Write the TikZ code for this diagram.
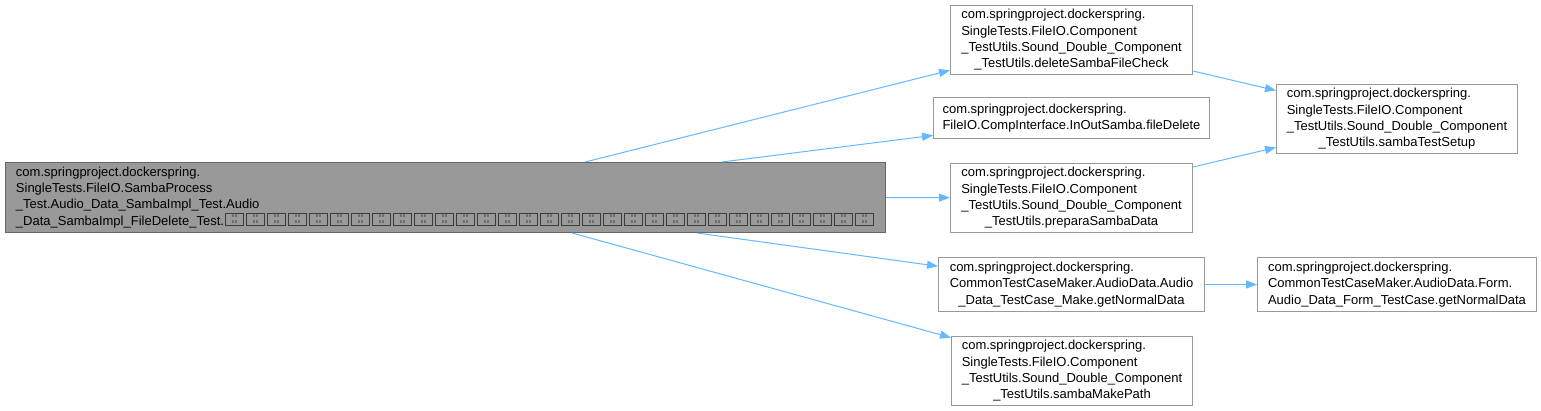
\documentclass[tikz,border=0pt]{standalone}
\usepackage{fontspec}
\setmainfont{Liberation Sans}
\usetikzlibrary{arrows.meta}
\definecolor{edgec}{HTML}{63B8FF}
\definecolor{mainfill}{HTML}{999999}
\definecolor{mainline}{HTML}{666666}
\definecolor{boxline}{HTML}{999999}
\definecolor{tofuline}{HTML}{3C3C3C}
\definecolor{tofufill}{HTML}{9A9A9A}
\newcommand\tofu{\kern1pt\raisebox{1pt}[9pt][1pt]{\setlength\fboxsep{1pt}\setlength\fboxrule{1pt}\fcolorbox{tofuline}{tofufill}{\makebox[15pt]{\rule{0pt}{9.5pt}\raisebox{0.6pt}{\fontsize{4.2}{4.2}\selectfont\color{tofuline}\shortstack{8\,8\\8\,8}}}}}\kern1pt}
\newcommand\tofus{\tofu\tofu\tofu\tofu\tofu\tofu\tofu\tofu\tofu\tofu\tofu\tofu\tofu\tofu\tofu\tofu\tofu\tofu\tofu\tofu\tofu\tofu\tofu\tofu\tofu\tofu\tofu\tofu\tofu\tofu\tofu}
\newcommand\lns[1]{\begin{tabular}{@{}l@{}}#1\end{tabular}}
\newcommand\cln[1]{\multicolumn{1}{@{}c@{}}{#1}}
\renewcommand\arraystretch{1.1667}
\begin{document}
\begin{tikzpicture}[x=1pt,y=-1pt,
  box/.style={draw=boxline, fill=white, line width=1pt, inner sep=0pt, anchor=north west,
    font=\fontsize{13}{14}\selectfont},
  mainbox/.style={box, draw=mainline, fill=mainfill},
  edge/.style={draw=edgec, line width=1pt, -{Triangle[length=11pt,width=8pt]}}]
\useasboundingbox (0,0) rectangle (1541,411);

\node[mainbox, minimum width=880pt, minimum height=70pt] (main) at (5,162)
  {\lns{com.springproject.dockerspring.\\SingleTests.FileIO.SambaProcess\\\_Test.Audio\_Data\_SambaImpl\_Test.Audio\\\_Data\_SambaImpl\_FileDelete\_Test.\tofus}};

\node[box, minimum width=242pt, minimum height=69pt] (A) at (950,5)
  {\lns{com.springproject.dockerspring.\\SingleTests.FileIO.Component\\\_TestUtils.Sound\_Double\_Component\\\cln{\_TestUtils.deleteSambaFileCheck}}};

\node[box, minimum width=276pt, minimum height=41pt] (B) at (933,97)
  {\lns{com.springproject.dockerspring.\\FileIO.CompInterface.InOutSamba.fileDelete}};

\node[box, minimum width=242pt, minimum height=69pt] (C) at (950,163)
  {\lns{com.springproject.dockerspring.\\SingleTests.FileIO.Component\\\_TestUtils.Sound\_Double\_Component\\\cln{\_TestUtils.preparaSambaData}}};

\node[box, minimum width=266pt, minimum height=54pt] (D) at (938,257)
  {\lns{com.springproject.dockerspring.\\CommonTestCaseMaker.AudioData.Audio\\\cln{\_Data\_TestCase\_Make.getNormalData}}};

\node[box, minimum width=241pt, minimum height=69pt] (E) at (951,336)
  {\lns{com.springproject.dockerspring.\\SingleTests.FileIO.Component\\\_TestUtils.Sound\_Double\_Component\\\cln{\_TestUtils.sambaMakePath}}};

\node[box, minimum width=241pt, minimum height=69pt] (F) at (1276,84)
  {\lns{com.springproject.dockerspring.\\SingleTests.FileIO.Component\\\_TestUtils.Sound\_Double\_Component\\\cln{\_TestUtils.sambaTestSetup}}};

\node[box, minimum width=279pt, minimum height=54pt] (G) at (1257,257)
  {\lns{com.springproject.dockerspring.\\CommonTestCaseMaker.AudioData.Form.\\Audio\_Data\_Form\_TestCase.getNormalData}};

\draw[edge] ([xshift=580pt]main.north west) -- (A);
\draw[edge] ([xshift=717pt]main.north west) -- (B);
\draw[edge] (main.east) -- (C);
\draw[edge] ([xshift=692pt]main.south west) -- (D);
\draw[edge] ([xshift=567pt]main.south west) -- (E);
\draw[edge] ([yshift=4pt]A.south east) -- (F);
\draw[edge] ([yshift=-4pt]C.north east) -- (F);
\draw[edge] (D) -- (G);
\end{tikzpicture}
\end{document}
